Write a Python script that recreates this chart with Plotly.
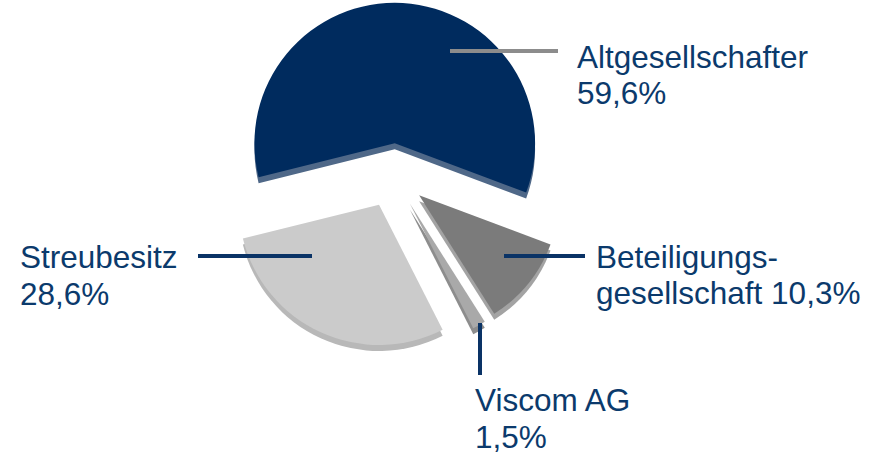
import plotly.graph_objects as go

# Daten
gruppen = ["Altgesellschafter", "Beteiligungsgesellschaft", "Viscom AG", "Streubesitz"]
anteile = [59.6, 10.3, 1.5, 28.6]
beschriftung_zeile1 = ["Altgesellschafter", "Beteiligungs-", "Viscom AG", "Streubesitz"]
beschriftung_zeile2 = ["59,6%", "gesellschaft 10,3%", "1,5%", "28,6%"]

W, H = 881, 454
NAVY_TEXT = "#0b3a6c"
NAVY_LINE = "#0a3366"

farben_oben = ["#002b5e", "#7b7b7b", "#a9a9a9", "#cbcbcb"]
farben_kante = ["#4f6888", "#a3a3a3", "#8d8d8d", "#b8b8b8"]
zug = [0.22, 0.24, 0.24, 0.24]


def px_x(x):
    return x / W


def px_y(y):
    return 1 - y / H


def domain(dy=0):
    cx, cy, half = 393, 174 + dy, 174
    return dict(x=[px_x(cx - half), px_x(cx + half)],
                y=[max(0.0, px_y(cy + half)), min(1.0, px_y(cy - half))])


fig = go.Figure()

# "3D"-Kante: gleiche Werte, leicht nach unten versetzt
fig.add_trace(go.Pie(
    labels=gruppen, values=anteile, sort=False, direction="clockwise",
    rotation=-104, pull=zug, domain=domain(6),
    marker=dict(colors=farben_kante, line=dict(width=0)),
    textinfo="none", hoverinfo="skip", showlegend=False
))

fig.add_trace(go.Pie(
    labels=gruppen, values=anteile, sort=False, direction="clockwise",
    rotation=-104, pull=zug, domain=domain(0),
    marker=dict(colors=farben_oben, line=dict(width=0)),
    textinfo="none", hoverinfo="label+percent", showlegend=False
))

# Beschriftungslinien (Pixelpositionen)
linien = [
    (450, 51, 558, 51, "#8c8c8c"),
    (198, 256, 312, 256, NAVY_LINE),
    (504, 256, 585, 256, NAVY_LINE),
    (480, 323, 480, 375, NAVY_LINE),
]
for x0, y0, x1, y1, c in linien:
    fig.add_shape(type="line", xref="paper", yref="paper",
                  x0=px_x(x0), y0=px_y(y0), x1=px_x(x1), y1=px_y(y1),
                  line=dict(color=c, width=4))

# Textpositionen: linke Kante, Grundlinie Zeile 1 / Zeile 2
text_pos = [(575, 67, 103), (594, 267, 303), (473, 410, 447), (18, 267, 304)]
for i, (x, b1, b2) in enumerate(text_pos):
    for txt, base in ((beschriftung_zeile1[i], b1), (beschriftung_zeile2[i], b2)):
        fig.add_annotation(
            x=px_x(x), y=px_y(base - 10), xref="paper", yref="paper",
            text=txt, showarrow=False, xanchor="left", yanchor="middle",
            font=dict(family="Liberation Sans, Arial", size=31.5, color=NAVY_TEXT)
        )

fig.update_layout(
    width=W, height=H, autosize=False,
    margin=dict(l=0, r=0, t=0, b=0),
    paper_bgcolor="white", plot_bgcolor="white",
    showlegend=False
)

fig.write_html("out.html", config={"displayModeBar": False},
               post_script="document.body.style.margin='0';")
